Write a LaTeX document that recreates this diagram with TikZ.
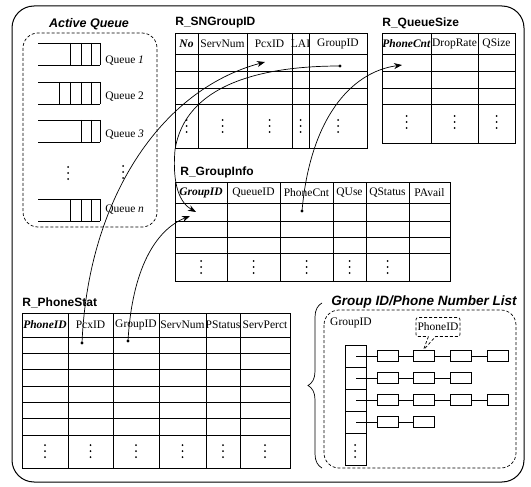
\documentclass[tikz,border=0pt]{standalone}
\usepackage{fontspec}
\setmainfont{Liberation Serif}
\setsansfont{Liberation Sans}
\usetikzlibrary{arrows.meta, decorations.pathreplacing, shapes.callouts}

\tikzset{
    cell/.style={font=\fontsize{11.5}{12}\selectfont, inner sep=0pt},
    ttl/.style={font=\sffamily\bfseries\fontsize{12}{14}\selectfont, anchor=west, inner sep=0pt},
    ittl/.style={font=\sffamily\bfseries\itshape\fontsize{12.5}{14}\selectfont, inner sep=0pt},
    dsh/.style={dash pattern=on 3pt off 2pt},
    link/.style={-{Stealth[length=8pt,width=6pt]}},
    pbox/.style={draw, minimum width=21pt, minimum height=11pt, inner sep=0pt},
    vdts/.pic={\foreach \k in {-6,0,6} \fill (0,\k) circle (1pt);}
}

\begin{document}
\begin{tikzpicture}[x=1pt, y=-1pt, line width=0.7pt]
    \useasboundingbox (0,0) rectangle (531,487);
    \draw[line width=1pt, rounded corners=22pt] (12,6) rectangle (524,482);

    % active queue
    \node[ittl] (aqT) at (89,24) {Active Queue};
    \draw[dsh, rounded corners=15pt] (23,33) rectangle (157,227);
    \foreach \yt/\vs/\yl/\lab [count=\q] in {43/{70,81,91,100}/61/Queue \textit{1},
            82/{59,70,81,91,100}/97/Queue 2, 120/{81,91,100}/135/Queue \textit{3},
            199/{70,81,91,100}/210/Queue \textit{n}} {
        \draw (38,\yt) -- (100,\yt);
        \draw (38,\yt+22) -- (100,\yt+22);
        \foreach \x in \vs
            \draw (\x,\yt) -- (\x,\yt+22);
        \node[cell, anchor=west] (q\q) at (105,\yl) {\lab};
    }
    \pic at (68,173) {vdts};
    \pic at (123,172) {vdts};

    % R_SNGroupID
    \node[ttl] (snT) at (175,23) {R\_SNGroupID};
    \draw (175,33) rectangle (367,148);
    \foreach \y in {54,71,88,104}
        \draw (175,\y) -- (367,\y);
    \foreach \x in {198,247,292,309}
        \draw (\x,33) -- (\x,148);
    \foreach \x/\t [count=\i] in {186.5/\textbf{\textit{No}}, 222.5/ServNum, 269.5/PcxID, 300.5/LAI, 338/GroupID} {
        \node[cell] (sn\i) at (\x,43.5) {\t};
        \pic at (\x,126) {vdts};
    }

    % R_QueueSize
    \node[ttl] (qsT) at (382,23) {R\_QueueSize};
    \draw (382,33) rectangle (515,143);
    \foreach \y in {54,71,88,104}
        \draw (382,\y) -- (515,\y);
    \foreach \x in {431,478}
        \draw (\x,33) -- (\x,143);
    \foreach \x/\t [count=\i] in {406.5/\textbf{\textit{PhoneCnt}}, 454.5/DropRate, 496.5/QSize} {
        \node[cell] (qs\i) at (\x,43.5) {\t};
        \pic at (\x,122) {vdts};
    }

    % R_GroupInfo
    \node[ttl] (giT) at (180,172) {R\_GroupInfo};
    \draw (175,182) rectangle (450,281);
    \foreach \y in {203,221,237,253}
        \draw (175,\y) -- (450,\y);
    \foreach \x in {227,280,333,366,409}
        \draw (\x,182) -- (\x,281);
    \foreach \x/\t [count=\i] in {201/\textbf{\textit{GroupID}}, 253.5/QueueID, 306.5/PhoneCnt, 349.5/QUse, 387.5/QStatus, 429.5/PAvail}
        \node[cell] (gi\i) at (\x,192.5) {\t};
    \foreach \x in {201,253.5,306.5,349.5,387.5}
        \pic at (\x,267) {vdts};

    % R_PhoneStat
    \node[ttl] (psT) at (22,303) {R\_PhoneStat};
    \draw (22,313) rectangle (290,468);
    \foreach \y in {337,353,369,386,402,418,435}
        \draw (22,\y) -- (290,\y);
    \foreach \x in {68,113,159,206,240}
        \draw (\x,313) -- (\x,468);
    \foreach \x/\t [count=\i] in {45/\textbf{\textit{PhoneID}}, 90.5/PcxID, 136/GroupID, 182.5/ServNum, 223/PStatus, 265/ServPerct} {
        \node[cell] (ps\i) at (\x,325) {\t};
        \pic at (\x,451) {vdts};
    }

    % Group ID / Phone Number List
    \draw[decorate, decoration={brace, amplitude=14pt}] (322,468) -- (322,303);
    \node[ittl, font=\sffamily\bfseries\itshape\fontsize{13.5}{15}\selectfont] (glT) at (424,302) {Group ID/Phone Number List};
    \draw[dsh, rounded corners=15pt] (324,310) rectangle (516,468);
    \node[cell] (glG) at (351,323) {GroupID};
    \draw (345,345) rectangle (366,465);
    \foreach \y in {367,389,411,433}
        \draw (345,\y) -- (366,\y);
    \pic at (355,451) {vdts};
    \foreach \r/\n/\yc in {1/4/356, 2/3/378, 3/4/400, 4/2/422} {
        \coordinate (h\r) at (356,\yc);
        \foreach \c in {1,...,\n}
            \node[pbox] (b\r\c) at (350.8+36.7*\c,\yc) {};
        \draw (h\r) -- (b\r1.west);
        \foreach \c [count=\p] in {2,...,\n}
            \draw (b\r\p.east) -- (b\r\c.west);
    }
    \node[cell, draw, densely dashed, rounded corners=2pt, rectangle callout, inner sep=1.5pt,
        minimum height=19pt, minimum width=40pt,
        callout absolute pointer={([xshift=10pt]b12.north west)}] (pid) at (438,327) {PhoneID};

    % links between tables
    \coordinate (psPcx) at (82,343);
    \coordinate (psGrp) at (128,341);
    \coordinate (snPcx) at (265,62);
    \coordinate (snGrp) at (340,66);
    \coordinate (giGrpA) at (196,212);
    \coordinate (giGrpB) at (190,216);
    \coordinate (giPhn) at (302,211);
    \coordinate (qsPhn) at (402,65);
    \foreach \d in {psPcx,psGrp,snGrp,giPhn}
        \fill (\d) circle (1.6pt);
    \draw[link] (psPcx) .. controls (88,200) and (160,90) .. (snPcx);
    \draw[link] (snGrp) .. controls (260,66) and (185,85) .. (175,150)
        .. controls (172,185) and (180,203) .. (giGrpA);
    \draw[link] (psGrp) .. controls (132,270) and (155,230) .. (giGrpB);
    \draw[link] (giPhn) .. controls (310,120) and (350,72) .. (qsPhn);
\end{tikzpicture}
\end{document}
